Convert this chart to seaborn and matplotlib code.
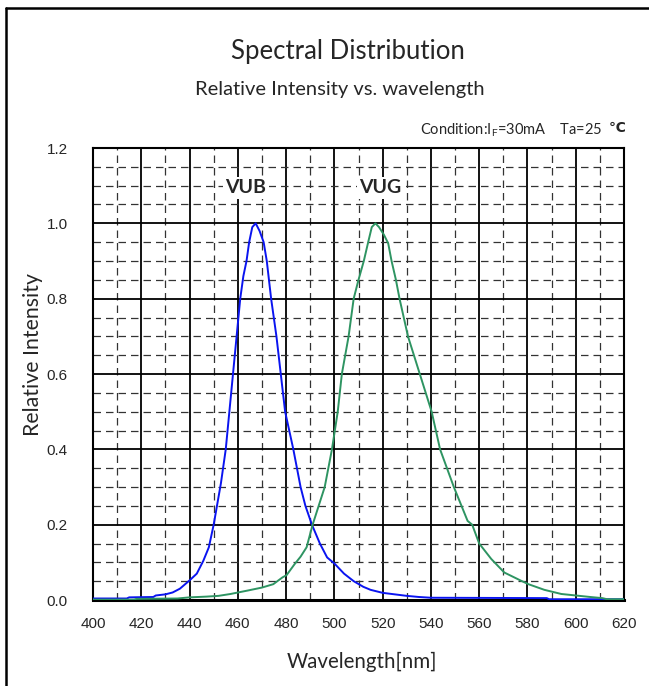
import numpy as np
import pandas as pd
import matplotlib
matplotlib.use("Agg")
import matplotlib.pyplot as plt
from matplotlib.lines import Line2D
from matplotlib.ticker import MultipleLocator
import seaborn as sns

# ---- data ----
vub_nm = [400, 414, 415, 425, 426, 430, 433, 436, 440, 443, 445.7, 448, 450, 453,
          455, 456.5, 458, 459.5, 461, 462.3, 463.6, 464.7, 466, 467.4, 469, 470.7,
          472, 473.8, 476, 477.8, 479.6, 483, 486, 488, 490.7, 494, 497, 500, 504,
          508, 512, 515, 520, 525, 530, 535, 540, 588, 589, 620]
vub_int = [0.004, 0.004, 0.007, 0.008, 0.012, 0.015, 0.02, 0.03, 0.052, 0.07, 0.104,
           0.14, 0.2, 0.31, 0.4, 0.5, 0.6, 0.7, 0.8, 0.86, 0.9, 0.95, 0.99, 1.0, 0.98,
           0.95, 0.9, 0.8, 0.7, 0.6, 0.5, 0.4, 0.3, 0.25, 0.2, 0.15, 0.113, 0.097,
           0.07, 0.05, 0.035, 0.027, 0.019, 0.015, 0.011, 0.008, 0.006, 0.005, 0.002,
           0.002]

vug_nm = [400, 417, 418, 435, 440, 447, 452, 457, 464, 470, 474.7, 478.5, 480.2,
          483.5, 486, 488.5, 491, 493, 496, 499, 501.4, 503.1, 505.9, 508, 510, 512.2,
          513.9, 515.5, 517, 518.5, 520.5, 522.3, 523.7, 525.5, 527, 530.5, 535.4,
          540.3, 543.8, 549.5, 555.2, 557.1, 560, 565, 570.4, 577.4, 580.4, 587, 594,
          600, 606, 611, 613, 620]
vug_int = [0.001, 0.001, 0.003, 0.004, 0.007, 0.009, 0.011, 0.016, 0.025, 0.033,
           0.042, 0.06, 0.066, 0.095, 0.115, 0.14, 0.2, 0.24, 0.3, 0.4, 0.5, 0.6, 0.7,
           0.8, 0.85, 0.9, 0.947, 0.99, 1.0, 0.99, 0.97, 0.947, 0.9, 0.85, 0.8, 0.7,
           0.6, 0.5, 0.4, 0.3, 0.21, 0.2, 0.15, 0.109, 0.073, 0.051, 0.042, 0.027,
           0.016, 0.012, 0.008, 0.005, 0.002, 0.002]

series_names = ["VUB", "VUG"]
series_colors = ["#0a14f0", "#2e9462"]
x_ticks = [400, 420, 440, 460, 480, 500, 520, 540, 560, 580, 600, 620]
y_ticks = [0.0, 0.2, 0.4, 0.6, 0.8, 1.0, 1.2]

df = pd.concat([
    pd.DataFrame({"Wavelength": vub_nm, "Intensity": vub_int, "Series": "VUB"}),
    pd.DataFrame({"Wavelength": vug_nm, "Intensity": vug_int, "Series": "VUG"}),
], ignore_index=True)

sns.set_style("white")
plt.rcParams["font.family"] = ["Lato", "DejaVu Sans"]

W, H = 649, 686
fig = plt.figure(figsize=(W / 100, H / 100), dpi=100)
ax = fig.add_axes([93 / W, 1 - 600 / H, (624 - 93) / W, (600 - 148) / H])

ax.set_xlim(400, 620)
ax.set_ylim(0, 1.2)

# grid
ax.xaxis.set_major_locator(MultipleLocator(20))
ax.xaxis.set_minor_locator(MultipleLocator(10))
ax.yaxis.set_major_locator(MultipleLocator(0.2))
ax.yaxis.set_minor_locator(MultipleLocator(0.05))
ax.grid(which="major", color="black", linewidth=1.3, linestyle="-", zorder=0)
ax.grid(which="minor", color="#333333", linewidth=0.9, linestyle=(0, (6, 4)), zorder=0)
ax.set_axisbelow(True)

sns.lineplot(data=df, x="Wavelength", y="Intensity", hue="Series",
             hue_order=series_names, palette=series_colors, sort=False,
             estimator=None, linewidth=1.4, legend=False, ax=ax, zorder=3)

for s in ax.spines.values():
    s.set_color("black")
    s.set_linewidth(1.5)
ax.spines["bottom"].set_linewidth(2.2)

ax.set_xticks(x_ticks)
ax.set_yticks(y_ticks)
ax.set_xticklabels([str(t) for t in x_ticks], family="Liberation Sans", fontsize=11)
ax.set_yticklabels([f"{t:.1f}" for t in y_ticks], family="Liberation Sans", fontsize=11)
ax.tick_params(axis="both", which="both", length=0)
ax.tick_params(axis="x", pad=12)
ax.tick_params(axis="y", pad=18)
ax.set_xlabel("")
ax.set_ylabel("")

# labels on curves
ax.text(463.4, 1.094, "VUB", ha="center", va="center", fontsize=14, fontweight="bold",
        bbox=dict(facecolor="white", edgecolor="none", pad=1.5), zorder=4)
ax.text(518.9, 1.094, "VUG", ha="center", va="center", fontsize=14, fontweight="bold",
        bbox=dict(facecolor="white", edgecolor="none", pad=1.5), zorder=4)

# texts
fig.text(348 / W, 1 - 51 / H, "Spectral Distribution", ha="center", va="center", fontsize=18.5)
fig.text(340 / W, 1 - 89 / H, "Relative Intensity vs. wavelength", ha="center", va="center",
         fontsize=14.5)
fig.text(602 / W, 1 - 130 / H, "Condition:I$_\\mathregular{F}$=30mA    Ta=25", ha="right",
         va="center", fontsize=10.5)
fig.text(617 / W, 1 - 128 / H, "\u2103", ha="center", va="center", fontsize=10,
         family="DejaVu Sans", fontweight="bold")
fig.text(362 / W, 1 - 662 / H, "Wavelength[nm]", ha="center", va="center", fontsize=14.8)
fig.text(33 / W, 1 - 355 / H, "Relative Intensity", ha="center", va="center", rotation=90,
         fontsize=15.3)

# outer frame (left and top)
fig.add_artist(Line2D([6 / W, 6 / W], [0, 1 - 8 / H], color="black", linewidth=1.8,
                      transform=fig.transFigure))
fig.add_artist(Line2D([6 / W, 1], [1 - 8 / H, 1 - 8 / H], color="black", linewidth=1.8,
                      transform=fig.transFigure))

fig.savefig("out.png", dpi=100, facecolor="white")
